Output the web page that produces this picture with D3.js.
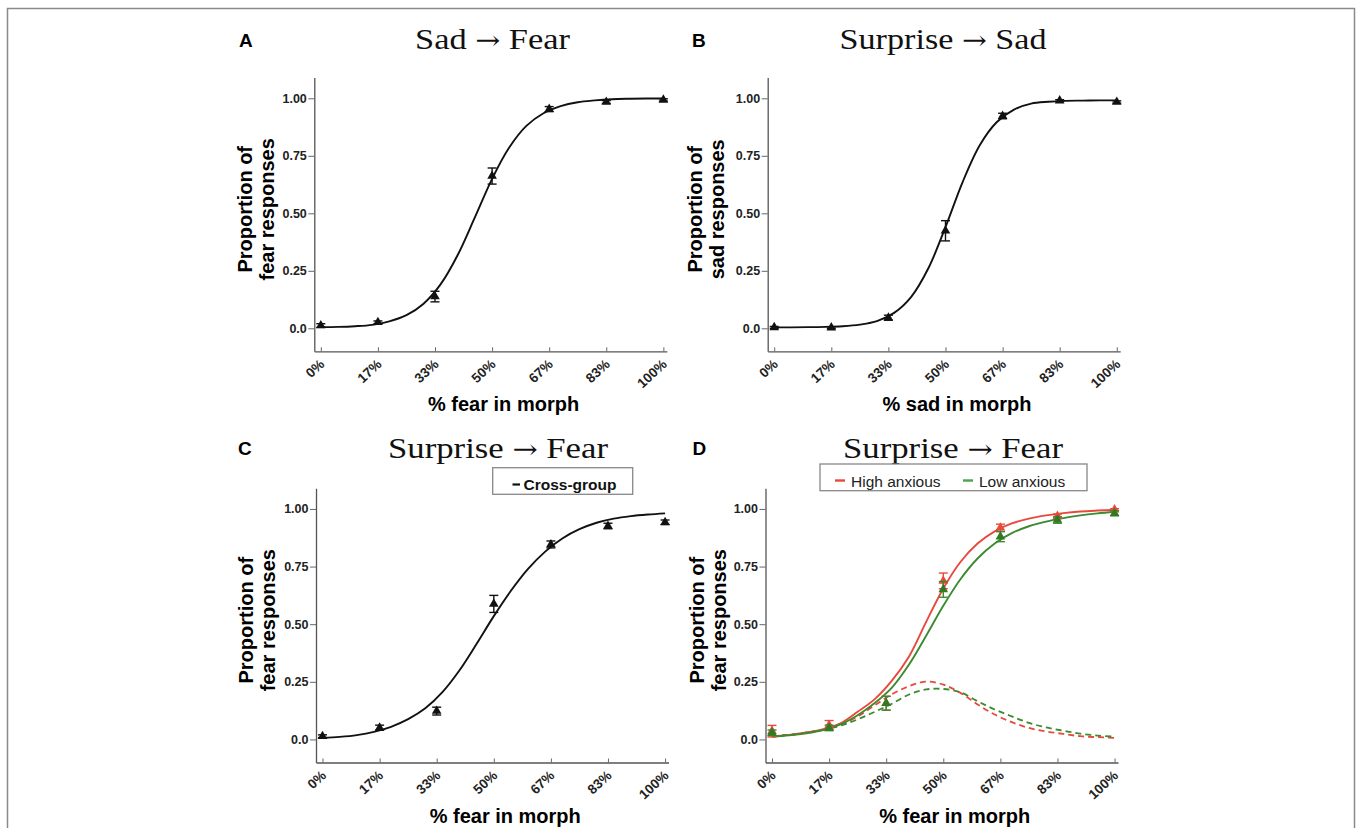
<!DOCTYPE html>
<html><head><meta charset="utf-8">
<script src="https://cdn.jsdelivr.net/npm/d3@7"></script>
<style>body{margin:0;background:#fff} svg{display:block}</style>
</head><body>
<svg id="chart" width="1357" height="828"></svg>
<script>
// ---------------- data ----------------
const morphLevels = [0, 16.67, 33.33, 50, 66.67, 83.33, 100];
const xTickLabels = ["0%", "17%", "33%", "50%", "67%", "83%", "100%"];
const yTickValues = [0, 0.25, 0.5, 0.75, 1];
const yTickLabels = ["0.0", "0.25", "0.50", "0.75", "1.00"];
const fitX = [0, 5, 10, 15, 20, 25, 30, 35, 40, 45, 50, 55, 60, 65, 70, 75, 80, 85, 90, 95, 100];

// A: Sad -> Fear
const sadFearMean = [0.012, 0.026, 0.138, 0.662, 0.953, 0.984, 0.993];
const sadFearErr  = [0.008, 0.006, 0.023, 0.035, 0.011, 0.006, 0.005];
const sadFearFit  = [0.005, 0.006, 0.009, 0.015, 0.030, 0.057, 0.107, 0.192, 0.320, 0.483, 0.650, 0.786, 0.880, 0.935, 0.966, 0.983, 0.991, 0.996, 0.998, 0.999, 0.999];

// B: Surprise -> Sad
const surpSadMean = [0.004, 0.003, 0.046, 0.424, 0.923, 0.990, 0.984];
const surpSadErr  = [0.004, 0.004, 0.011, 0.044, 0.012, 0.004, 0.005];
const surpSadFit  = [0.004, 0.004, 0.005, 0.006, 0.009, 0.016, 0.031, 0.067, 0.137, 0.261, 0.440, 0.636, 0.796, 0.897, 0.951, 0.977, 0.985, 0.989, 0.990, 0.991, 0.991];

// C: Surprise -> Fear (cross-group)
const surpFearMean = [0.014, 0.051, 0.123, 0.588, 0.846, 0.926, 0.942];
const surpFearErr  = [0.006, 0.011, 0.017, 0.037, 0.015, 0.012, 0.010];
const surpFearFit  = [0.006, 0.011, 0.019, 0.033, 0.055, 0.088, 0.135, 0.205, 0.300, 0.415, 0.535, 0.645, 0.740, 0.815, 0.872, 0.912, 0.940, 0.958, 0.969, 0.976, 0.981];

// D: Surprise -> Fear by anxiety group
const highMean = [0.036, 0.062, 0.157, 0.688, 0.918, 0.969, 0.997];
const highErr  = [0.025, 0.020, 0.030, 0.034, 0.016, 0.009, 0.004];
const lowMean  = [0.029, 0.050, 0.157, 0.651, 0.880, 0.952, 0.981];
const lowErr   = [0.012, 0.012, 0.030, 0.034, 0.022, 0.014, 0.011];
const highFit  = [0.014, 0.020, 0.030, 0.045, 0.070, 0.120, 0.175, 0.255, 0.360, 0.510, 0.655, 0.770, 0.850, 0.903, 0.937, 0.958, 0.972, 0.982, 0.989, 0.993, 0.996];
const lowFit   = [0.012, 0.018, 0.027, 0.041, 0.065, 0.105, 0.158, 0.225, 0.325, 0.450, 0.580, 0.695, 0.785, 0.850, 0.895, 0.925, 0.945, 0.960, 0.972, 0.981, 0.988];
const highDash = [0.014, 0.020, 0.030, 0.043, 0.063, 0.100, 0.148, 0.196, 0.231, 0.251, 0.238, 0.202, 0.152, 0.108, 0.075, 0.050, 0.035, 0.024, 0.014, 0.010, 0.007];
const lowDash  = [0.014, 0.020, 0.029, 0.042, 0.060, 0.087, 0.120, 0.155, 0.195, 0.217, 0.219, 0.205, 0.166, 0.130, 0.100, 0.072, 0.052, 0.038, 0.025, 0.017, 0.012];

// ---------------- drawing ----------------
const SANS = "'Liberation Sans', Arial, sans-serif";
const SERIF = "'Liberation Serif', 'Times New Roman', serif";
const RED = "#e8493c", GREEN = "#3b8a2f", GREEN_M = "#2f7a22", BLACK = "#111";

const svg = d3.select("#chart");
svg.append("rect").attr("x", 7.5).attr("y", 8.5).attr("width", 1347).attr("height", 840)
  .attr("fill", "none").attr("stroke", "#8a8a8a").attr("stroke-width", 1.5);

const panels = [
  { letter: "A", title: ["Sad", "Fear"], titleX: 492.5, titleY: 49, titleW: 155, letterX: 239, letterY: 46.5,
    xRange: [314.3, 666.8], yRange: [351.3, 77.6], yLab: ["Proportion of", "fear responses"], yLabOff: [-62, -40],
    xLab: "% fear in morph",
    series: [{ mean: sadFearMean, err: sadFearErr, fit: sadFearFit, color: BLACK, mcolor: BLACK }] },
  { letter: "B", title: ["Surprise", "Sad"], titleX: 943, titleY: 49, titleW: 207, letterX: 692, letterY: 46.5,
    xRange: [767.7, 1120.2], yRange: [351.3, 77.6], yLab: ["Proportion of", "sad responses"], yLabOff: [-66, -44],
    xLab: "% sad in morph",
    series: [{ mean: surpSadMean, err: surpSadErr, fit: surpSadFit, color: BLACK, mcolor: BLACK }] },
  { letter: "C", title: ["Surprise", "Fear"], titleX: 498, titleY: 458, titleW: 220, letterX: 238, letterY: 455,
    xRange: [316, 668.5], yRange: [762.5, 488.2], yLab: ["Proportion of", "fear responses"], yLabOff: [-63, -41],
    xLab: "% fear in morph",
    series: [{ mean: surpFearMean, err: surpFearErr, fit: surpFearFit, color: BLACK, mcolor: BLACK }] },
  { letter: "D", title: ["Surprise", "Fear"], titleX: 953, titleY: 458, titleW: 220, letterX: 692.5, letterY: 455,
    xRange: [765.5, 1118], yRange: [762.5, 488.2], yLab: ["Proportion of", "fear responses"], yLabOff: [-62, -40],
    xLab: "% fear in morph",
    series: [
      { mean: highMean, err: highErr, fit: highFit, dash: highDash, color: RED, mcolor: RED },
      { mean: lowMean, err: lowErr, fit: lowFit, dash: lowDash, color: GREEN, mcolor: GREEN_M }
    ] }
];

panels.forEach(p => {
  const g = svg.append("g");
  const x = d3.scaleLinear().domain([-1.9, 101]).range(p.xRange);
  const y = d3.scaleLinear().domain([-0.1, 1.09]).range(p.yRange);
  const axisY = p.yRange[0], axisX = p.xRange[0];

  // titles and panel letter
  g.append("text").attr("x", p.letterX).attr("y", p.letterY).text(p.letter)
    .attr("font-family", SANS).attr("font-weight", "bold").attr("font-size", 19).attr("fill", "#000");
  const tt = g.append("text").attr("x", p.titleX).attr("y", p.titleY)
    .attr("text-anchor", "middle").attr("font-family", SERIF).attr("font-size", 30)
    .attr("textLength", p.titleW).attr("lengthAdjust", "spacingAndGlyphs").attr("fill", "#111");
  tt.append("tspan").text(p.title[0] + " ");
  tt.append("tspan").attr("font-family", "'DejaVu Serif', serif").attr("font-size", 26).text("\u2192");
  tt.append("tspan").text(" " + p.title[1]);

  // y axis
  const ya = g.append("g").attr("transform", `translate(${axisX},0)`)
    .call(d3.axisLeft(y).tickValues(yTickValues).tickFormat((d, i) => yTickLabels[i]).tickSize(6).tickSizeOuter(0).tickPadding(1.5));
  // x axis
  const xa = g.append("g").attr("transform", `translate(0,${axisY})`)
    .call(d3.axisBottom(x).tickValues(morphLevels).tickFormat((d, i) => xTickLabels[i]).tickSize(-4).tickSizeOuter(0));
  [ya, xa].forEach(a => {
    a.select(".domain").attr("stroke", "#555").attr("stroke-width", 1.3);
    a.selectAll(".tick line").attr("stroke", "#666").attr("stroke-width", 1);
    a.selectAll("text").attr("font-family", SANS).attr("font-weight", "bold").attr("font-size", 12.5).attr("fill", "#222");
  });
  xa.selectAll("text").attr("y", null).attr("dy", null).attr("x", null).attr("font-size", 13.5)
    .attr("text-anchor", "end").attr("transform", "translate(4,14) rotate(-43)");

  // axis titles
  const cy = (y(0) + y(1)) / 2 - 4;
  p.yLab.forEach((t, i) => {
    g.append("text").attr("transform", `translate(${axisX + p.yLabOff[i]},${cy}) rotate(-90)`)
      .attr("text-anchor", "middle").text(t)
      .attr("font-family", SANS).attr("font-weight", "bold").attr("font-size", 20).attr("fill", "#000");
  });
  g.append("text").attr("x", (p.xRange[0] + p.xRange[1]) / 2 + 13).attr("y", axisY + 60)
    .attr("text-anchor", "middle").text(p.xLab)
    .attr("font-family", SANS).attr("font-weight", "bold").attr("font-size", 20).attr("fill", "#000");

  const line = d3.line().x((d, i) => x(fitX[i])).y(d => y(d)).curve(d3.curveCatmullRom.alpha(0.5));

  // dashed curves first
  p.series.forEach(s => {
    if (s.dash) g.append("path").attr("d", line(s.dash)).attr("fill", "none")
      .attr("stroke", s.color).attr("stroke-width", 1.8).attr("stroke-dasharray", "6,4");
  });
  // fitted curves
  p.series.forEach(s => {
    g.append("path").attr("d", line(s.fit)).attr("fill", "none")
      .attr("stroke", s.color).attr("stroke-width", 1.9);
  });
  // error bars and markers
  const tri = d3.symbol().type(d3.symbolTriangle).size(40);
  p.series.forEach(s => {
    s.mean.forEach((m, i) => {
      const cx = x(morphLevels[i]), e = s.err[i];
      const eb = g.append("g").attr("stroke", s.color).attr("stroke-width", 1.4);
      eb.append("line").attr("x1", cx).attr("x2", cx).attr("y1", y(m - e)).attr("y2", y(m + e));
      eb.append("line").attr("x1", cx - 4.5).attr("x2", cx + 4.5).attr("y1", y(m - e)).attr("y2", y(m - e));
      eb.append("line").attr("x1", cx - 4.5).attr("x2", cx + 4.5).attr("y1", y(m + e)).attr("y2", y(m + e));
      g.append("path").attr("d", tri()).attr("transform", `translate(${cx},${y(m)})`).attr("fill", s.mcolor);
    });
  });
});

// legends
const lc = svg.append("g");
lc.append("rect").attr("x", 492.7).attr("y", 467.7).attr("width", 140).attr("height", 26.6)
  .attr("fill", "#fff").attr("stroke", "#888").attr("stroke-width", 1.3);
lc.append("line").attr("x1", 512.5).attr("x2", 520).attr("y1", 484.5).attr("y2", 484.5).attr("stroke", BLACK).attr("stroke-width", 2.2);
lc.append("text").attr("x", 523.5).attr("y", 489.5).text("Cross-group")
  .attr("font-family", SANS).attr("font-weight", "bold").attr("font-size", 15.5).attr("fill", "#111");

const ld = svg.append("g");
ld.append("rect").attr("x", 820).attr("y", 464).attr("width", 267).attr("height", 26.7)
  .attr("fill", "#fff").attr("stroke", "#888").attr("stroke-width", 1.3);
[{ label: "High anxious", color: RED, x: 835 }, { label: "Low anxious", color: "#4aa547", x: 963 }].forEach(d => {
  ld.append("line").attr("x1", d.x).attr("x2", d.x + 10).attr("y1", 480.5).attr("y2", 480.5)
    .attr("stroke", d.color).attr("stroke-width", 2.4);
  ld.append("text").attr("x", d.x + 16).attr("y", 487).text(d.label)
    .attr("font-family", SANS).attr("font-size", 15.5).attr("fill", "#222");
});
</script>
</body></html>
